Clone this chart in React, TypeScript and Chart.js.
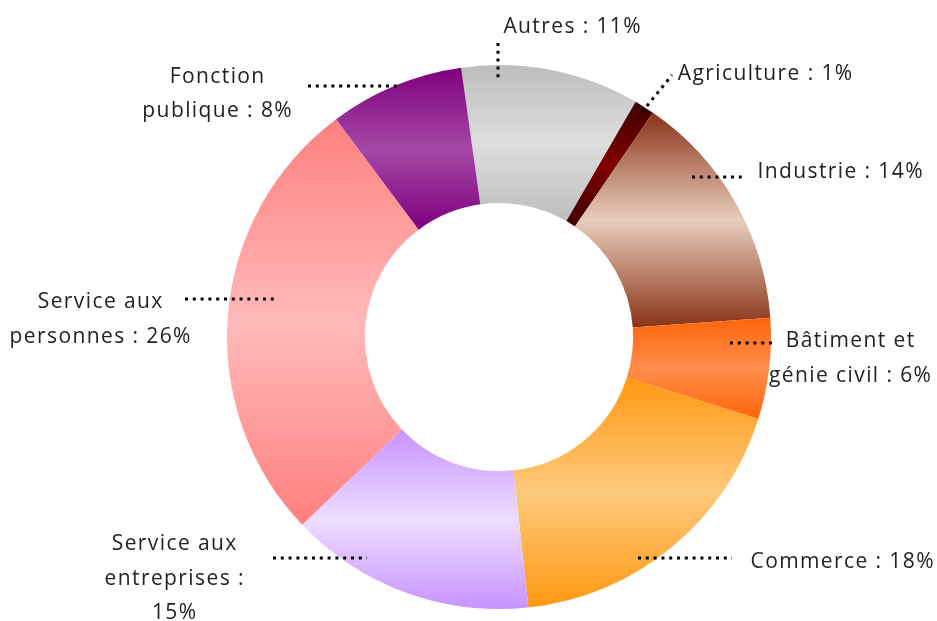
import React, { useEffect, useRef } from "react";
import { Chart, registerables } from "chart.js";

Chart.register(...registerables);

// ---- data ----
const categories = [
  "Autres",
  "Agriculture",
  "Industrie",
  "Bâtiment et génie civil",
  "Commerce",
  "Service aux entreprises",
  "Service aux personnes",
  "Fonction publique",
];
const shares = [10.6, 1.2, 14.3, 6.0, 18.4, 14.6, 26.9, 8.0];
const labelTexts = [
  ["Autres : 11%"],
  ["Agriculture : 1%"],
  ["Industrie : 14%"],
  ["Bâtiment et", "génie civil : 6%"],
  ["Commerce : 18%"],
  ["Service aux", "entreprises :", "15%"],
  ["Service aux", "personnes : 26%"],
  ["Fonction", "publique : 8%"],
];

// ---- styles ----
const edgeColors = ["#BDBDBD", "#3C0000", "#8A3316", "#FF650A", "#FF9812", "#C793FF", "#FF7F7F", "#7E007E"];
const midColors = ["#DEDEDE", "#820000", "#E9CDBE", "#FF8E4C", "#FDC97C", "#EEDDFF", "#FFBABA", "#A548A5"];
const ROTATION = -8;
const CUTOUT = 49.3;

// label layout: offsets relative to donut centre
const labelX = [73, 266, 341, 351, 343, -325, -399, -282];
const labelY = [[-304], [-257], [-159], [10, 45], [231], [213, 248, 282], [-29, 6], [-254, -220]];
const leaders = [
  [[-1, -294], [-1, -257]],
  [[143, -225], [173, -262]],
  [[193, -160], [244, -160]],
  [[231, 6], [274, 6]],
  [[139, 221], [233, 221]],
  [[-226, 221], [-132, 221]],
  [[-314, -38], [-222, -38]],
  [[-191, -251], [-99, -251]],
];

function sliceGradient(ctx: any) {
  const chart = ctx.chart;
  const i = ctx.dataIndex ?? 0;
  const area = chart.chartArea;
  if (!area) return edgeColors[i];
  const cx = (area.left + area.right) / 2;
  const cy = (area.top + area.bottom) / 2;
  const R = Math.min(area.right - area.left, area.bottom - area.top) / 2;
  const r = (R * CUTOUT) / 100;
  const total = shares.reduce((a, b) => a + b, 0);
  let start = ((ROTATION - 90) * Math.PI) / 180;
  for (let k = 0; k < i; k++) start += (shares[k] / total) * 2 * Math.PI;
  const end = start + (shares[i] / total) * 2 * Math.PI;
  let ymin = Infinity;
  let ymax = -Infinity;
  for (let s = 0; s <= 90; s++) {
    const a = start + ((end - start) * s) / 90;
    for (const rad of [r, R]) {
      const y = cy + rad * Math.sin(a);
      if (y < ymin) ymin = y;
      if (y > ymax) ymax = y;
    }
  }
  const g = chart.ctx.createLinearGradient(0, ymin, 0, ymax);
  g.addColorStop(0, edgeColors[i]);
  g.addColorStop(0.5, midColors[i]);
  g.addColorStop(1, edgeColors[i]);
  return g;
}

const labelPlugin = {
  id: "excelLabels",
  afterDraw(chart: any) {
    const meta = chart.getDatasetMeta(0);
    const arc = meta.data[0];
    if (!arc) return;
    const cx = arc.x;
    const cy = arc.y;
    const c = chart.ctx;
    c.save();
    c.strokeStyle = "#000";
    c.lineWidth = 3;
    c.setLineDash([3, 4.8]);
    c.lineCap = "butt";
    leaders.forEach((l) => {
      c.beginPath();
      c.moveTo(cx + l[0][0], cy + l[0][1]);
      c.lineTo(cx + l[1][0], cy + l[1][1]);
      c.stroke();
    });
    c.setLineDash([]);
    c.fillStyle = "#222";
    c.font = '21px "Open Sans"';
    (c as any).letterSpacing = "1.4px";
    c.textAlign = "center";
    c.textBaseline = "alphabetic";
    labelTexts.forEach((lines, i) => {
      lines.forEach((t, j) => {
        c.fillText(t, cx + labelX[i] + 0.7, cy + labelY[i][j]);
      });
    });
    c.restore();
  },
};

export default function App() {
  const ref = useRef<HTMLCanvasElement | null>(null);
  useEffect(() => {
    if (!ref.current) return;
    const chart = new Chart(ref.current, {
      type: "doughnut",
      data: {
        labels: categories,
        datasets: [
          {
            data: shares,
            backgroundColor: sliceGradient as any,
            borderWidth: 0,
          },
        ],
      },
      options: {
        responsive: false,
        animation: false,
        rotation: ROTATION,
        cutout: CUTOUT + "%",
        layout: { padding: { left: 227, right: 166, top: 65, bottom: 12 } },
        plugins: {
          legend: { display: false },
          tooltip: { enabled: false },
        },
      },
      plugins: [labelPlugin],
    });
    return () => chart.destroy();
  }, []);
  return (
    <div style={{ position: "fixed", left: 0, top: 0, width: 937, height: 621, background: "#fff" }}>
      <canvas ref={ref} width={937} height={621} style={{ display: "block" }} />
    </div>
  );
}
